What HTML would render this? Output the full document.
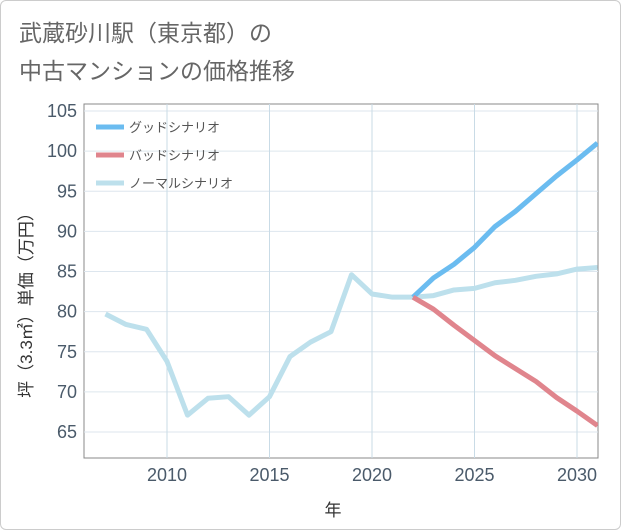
<!DOCTYPE html>
<html><head><meta charset="utf-8"><style>
body{margin:0;background:#fff;font-family:"Liberation Sans","Noto Sans CJK JP",sans-serif}
#wrap{position:relative;width:619px;height:528px;border:1px solid #ccc;border-radius:6px;overflow:hidden}
</style></head><body>
<div id="wrap">
<svg id="c" width="619" height="528" xmlns="http://www.w3.org/2000/svg">
<text x="18" y="40" font-size="23" fill="#666">武蔵砂川駅（東京都）の</text>
<text x="18" y="78" font-size="23" fill="#666">中古マンションの価格推移</text>
<rect x="83" y="103" width="514" height="354" fill="none" stroke="#888"/>
<g id="grid"></g><g id="lines"></g>
<text x="332" y="515" font-size="17" fill="#333" text-anchor="middle">年</text>
<text transform="translate(31,300) rotate(-90)" font-size="17" fill="#333" text-anchor="middle">坪（3.3㎡）単価（万円）</text>
<g>
<line x1="95" y1="126" x2="123" y2="126" stroke="#6bbcf0" stroke-width="5"/>
<text x="128" y="131" font-size="13" fill="#555">グッドシナリオ</text>
<line x1="95" y1="154" x2="123" y2="154" stroke="#e0858d" stroke-width="5"/>
<text x="128" y="159" font-size="13" fill="#555">バッドシナリオ</text>
<line x1="95" y1="182" x2="123" y2="182" stroke="#bde0ec" stroke-width="5"/>
<text x="128" y="187" font-size="13" fill="#555">ノーマルシナリオ</text>
</g>
</svg></div>
<script>
const years=[2007,2008,2009,2010,2011,2012,2013,2014,2015,2016,2017,2018,2019,2020,2021,2022,2023,2024,2025,2026,2027,2028,2029,2030,2031];
const normal=[79.7,78.4,77.8,73.8,67.1,69.2,69.4,67.1,69.4,74.4,76.2,77.5,84.6,82.2,81.8,81.8,82.0,82.7,82.9,83.6,83.9,84.4,84.7,85.3,85.5];
const goodYears=[2022,2023,2024,2025,2026,2027,2028,2029,2030,2031];
const good=[81.8,84.2,85.9,88.0,90.6,92.5,94.7,96.9,98.9,101.0];
const bad=[81.8,80.3,78.3,76.4,74.5,72.9,71.3,69.3,67.6,65.8];
const yTicks=[65,70,75,80,85,90,95,100,105];
const xTicks=[2010,2015,2020,2025,2030];
const NS='http://www.w3.org/2000/svg';
const sx=y=>166+(y-2010)*20.5;
const sy=v=>431-(v-65)*8.025;
const grid=document.getElementById('grid'),lines=document.getElementById('lines');
function mk(tag,attrs,parent){const e=document.createElementNS(NS,tag);for(const k in attrs)e.setAttribute(k,attrs[k]);parent.appendChild(e);return e;}
yTicks.forEach(v=>{
 const l=mk('line',{x1:83,x2:597,y1:sy(v),y2:sy(v),stroke:'#dde6ee'},grid);
 
 
 const t=mk('text',{x:76,y:sy(v)+6,'font-size':18,fill:'#4a5a6a','text-anchor':'end'},grid);
 t.textContent=v;
 
 
});
xTicks.forEach(v=>{
 const l=mk('line',{x1:sx(v),x2:sx(v),y1:103,y2:457,stroke:'#c9dbe6'},grid);
 
 
 const t=mk('text',{x:sx(v),y:480,'font-size':18,fill:'#4a5a6a','text-anchor':'middle'},grid);
 t.textContent=v;
 
 
});
function series(xs,vs,color,name){
 const p=mk('polyline',{points:xs.map((x,i)=>sx(x)+','+sy(vs[i])).join(' '),fill:'none',stroke:color,'stroke-width':5,'stroke-linejoin':'round'},lines);
 
 
}
const clip=mk('clipPath',{id:'cp'},document.getElementById('c'));
mk('rect',{x:83,y:103,width:514,height:354},clip);
lines.setAttribute('clip-path','url(#cp)');
series(years,normal,'#bde0ec','normal-scenario-line');
series(goodYears,good,'#6bbcf0','good-scenario-line');
series(goodYears,bad,'#e0858d','bad-scenario-line');
</script>
</body></html>
